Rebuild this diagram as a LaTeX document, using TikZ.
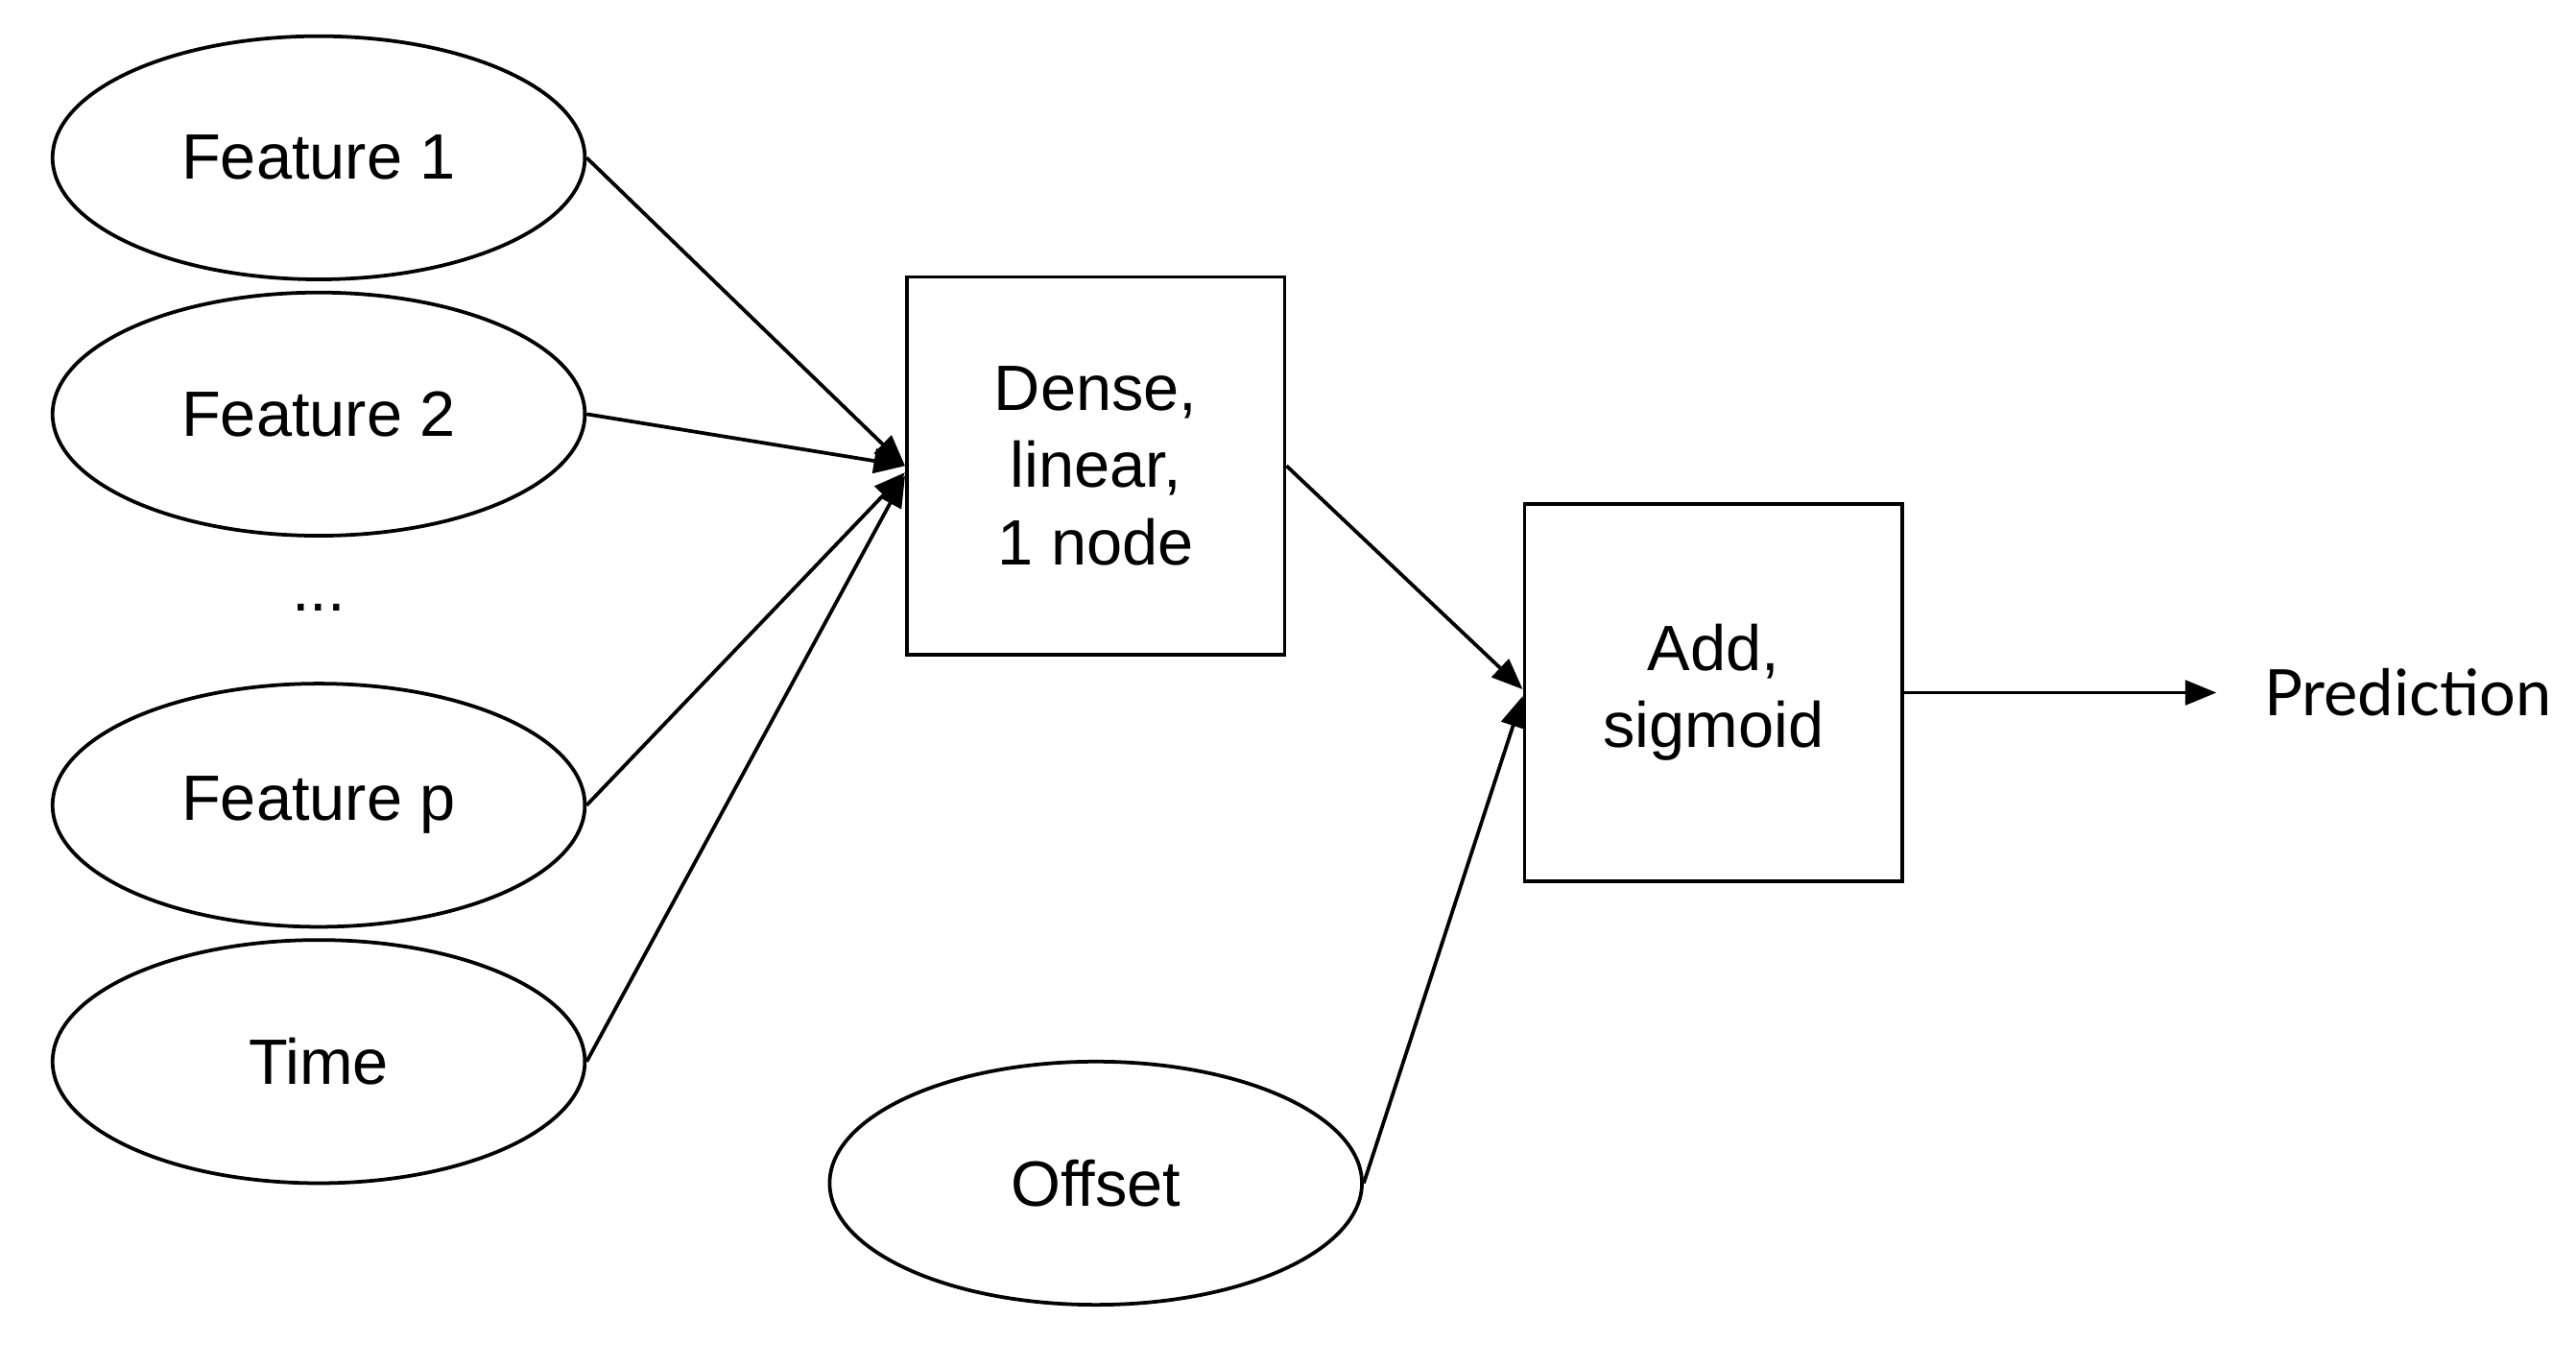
\documentclass[tikz,border=0pt]{standalone}
\usepackage{fontspec}
\setmainfont{Liberation Sans}
\newfontfamily\predfont{Lato}
\usetikzlibrary{positioning, arrows.meta, shapes.geometric}

\begin{document}
\begin{tikzpicture}[->,>={Triangle[length=9.5pt,width=7.5pt]},auto,node distance=78pt,
    line width=1.1pt,font=\fontsize{19.5}{23.4}\selectfont,
    feat node/.style={ellipse,draw,minimum width=162pt,minimum height=74pt,inner sep=0pt},
    layer node/.style={rectangle,draw,minimum width=115pt,minimum height=115pt,align=center}]

\useasboundingbox (0pt,0pt) rectangle (784pt,-416pt);

\node[feat node]     (f1)                  at (97pt,-48pt)       {Feature 1};
\node[feat node]     (f2)     [below of=f1]                       {Feature 2};
\node                (dots)   [below of=f2, node distance=59pt]   {...};
\node[feat node]     (fp)     [below of=f2, node distance=119pt]  {Feature p};
\node[feat node]     (time)   [below of=fp]                       {Time};
\node[layer node]    (dense)               at (333.5pt,-141.75pt) {Dense,\\linear,\\1 node};
\node[layer node]    (add)                 at (521.5pt,-210.75pt) {Add,\\sigmoid};
\node[feat node]     (offset)              at (333.5pt,-360pt)    {Offset};
\node[inner sep=0pt] (pred)   [right=109pt of add]                {\predfont Prediction};

\path[]
(f1.east)     edge (dense.west)
(f2.east)     edge (dense.west)
(fp.east)     edge ([yshift=-2pt]dense.west)
(time.east)   edge ([yshift=-3pt]dense.west)
(dense.east)  edge ([yshift=1pt]add.west)
(offset.east) edge ([yshift=-1pt]add.west)
(add.east)    edge[shorten >=14pt] (pred.west);
\end{tikzpicture}
\end{document}
